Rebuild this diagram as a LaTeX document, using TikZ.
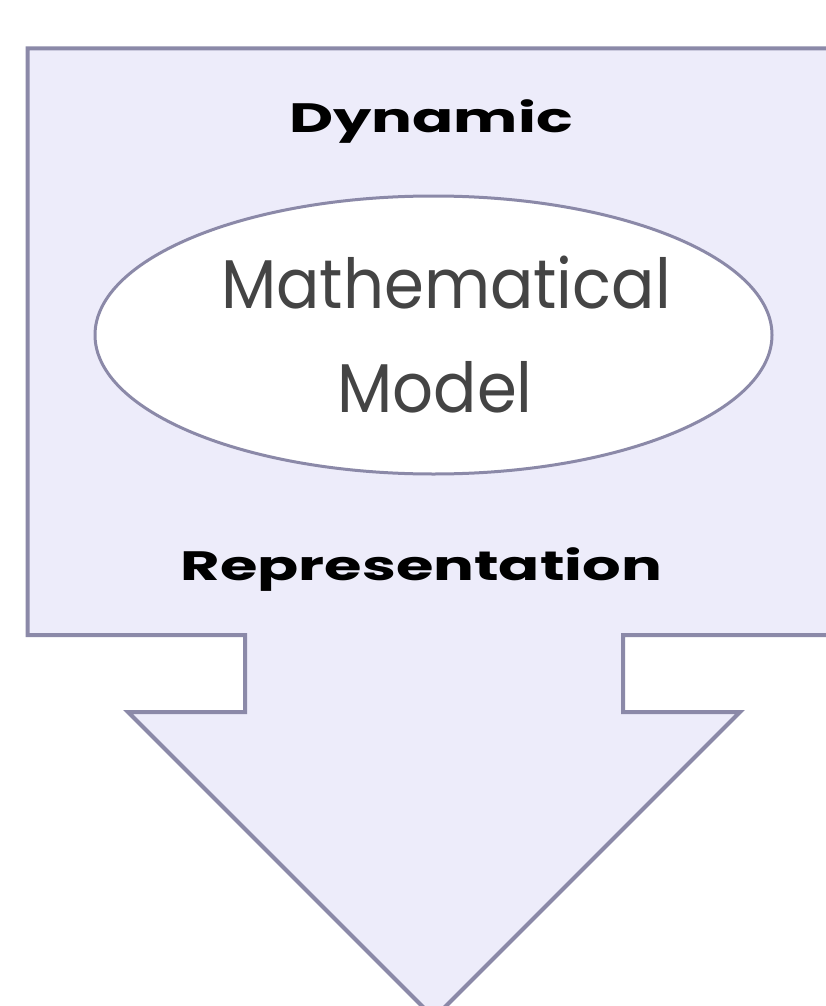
\documentclass[tikz,border=0pt]{standalone}
\usepackage{fontspec}
\setmainfont{Poppins}
\newfontfamily\widefam{Poppins}[FakeStretch=1.48]
\newfontfamily\narrowfam{Poppins}[FakeStretch=0.93]
\usetikzlibrary{shapes.geometric}
\definecolor{edgec}{RGB}{139,137,168}
\definecolor{fillc}{RGB}{237,236,250}
\definecolor{textg}{RGB}{68,68,68}
\tikzset{
  outline/.style={draw=edgec, line width=4pt, fill=fillc, line join=miter},
  modelell/.style={ellipse, draw=edgec, line width=3pt, fill=white, inner sep=0pt},
  boldlbl/.style={font=\widefam\bfseries\fontsize{41}{44}\selectfont, text=black, anchor=base, inner sep=0pt},
  thinlbl/.style={font=\narrowfam\fontsize{69}{72}\selectfont, text=textg, anchor=base, inner sep=0pt}
}
\begin{document}
\begin{tikzpicture}[x=1pt,y=-1pt]
\useasboundingbox (0,0) rectangle (826,1006);
\draw[outline] (27.5,48.5) -- (850,48.5) -- (850,635) -- (623,635) -- (623,712) -- (740,712)
  -- (434,1018) -- (128,712) -- (245,712) -- (245,635) -- (27.5,635) -- cycle;
\node[modelell, minimum width=677pt, minimum height=278pt] (model) at (433.5,335) {};
\node[boldlbl] (dyn) at (431,132) {Dynamic};
\node[boldlbl] (rep) at (421.5,580) {Representation};
\node[thinlbl] (math) at (446,308) {Mathematical};
\node[thinlbl] (mod) at (435,412) {Model};
\end{tikzpicture}
\end{document}
